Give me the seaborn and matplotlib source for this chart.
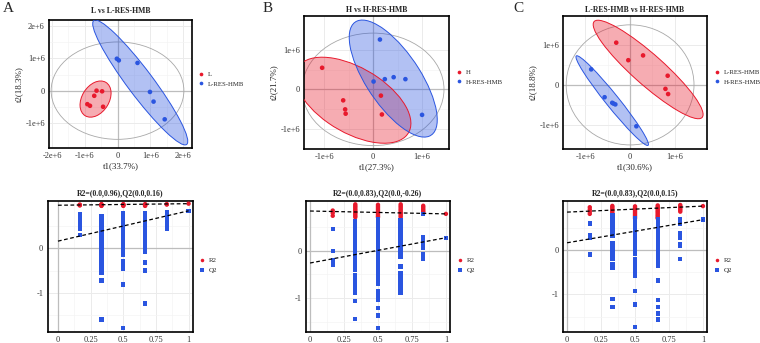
import numpy as np
import pandas as pd
import matplotlib
matplotlib.use('Agg')
import matplotlib.pyplot as plt
import seaborn as sns
from matplotlib.patches import Ellipse

RED = '#E8192C'
BLUE = '#2A55E0'
GRID = '#EBEBEB'
ZERO = '#BDBDBD'

# ---------------- score plots (t1 / t2 in units of 1e6) ----------------
a_names = ['L', 'L-RES-HMB']
a_t1 = [[-0.64, -0.47, -0.71, -0.92, -0.84, -0.44], [-0.02, 0.04, 0.61, 0.99, 1.10, 1.44]]
a_t2 = [[0.00, -0.02, -0.16, -0.42, -0.47, -0.50], [0.99, 0.94, 0.86, -0.04, -0.34, -0.89]]

b_names = ['H', 'H-RES-HMB']
b_t1 = [[-1.04, -0.61, -0.57, -0.56, 0.16, 0.18], [0.14, 0.01, 0.24, 0.42, 0.66, 1.00]]
b_t2 = [[0.55, -0.28, -0.51, -0.62, -0.16, -0.64], [1.27, 0.20, 0.26, 0.31, 0.26, -0.65]]

c_names = ['L-RES-HMB', 'H-RES-HMB']
c_t1 = [[-0.31, -0.04, 0.29, 0.84, 0.79, 0.85], [-0.87, -0.57, -0.40, -0.37, -0.33, 0.14]]
c_t2 = [[1.06, 0.62, 0.74, 0.23, -0.10, -0.23], [0.39, -0.31, -0.45, -0.47, -0.49, -1.04]]

# ---------------- permutation tests ----------------
perm_x = [0.167, 0.333, 0.5, 0.667, 0.833, 1.0]

a_r2 = [[0.98, 0.97, 0.96],
        [0.99, 0.98, 0.97, 0.96, 0.95],
        [0.99, 0.98, 0.97, 0.96, 0.95],
        [0.99, 0.98, 0.97, 0.96, 0.95],
        [0.99, 0.98],
        [1.00]]
a_q2 = [[0.76, 0.73, 0.70, 0.67, 0.64, 0.61, 0.58, 0.47, 0.43, 0.30],
        [0.72, 0.66, 0.60, 0.54, 0.48, 0.42, 0.36, 0.30, 0.24, 0.18, 0.12, 0.06, 0.00, -0.06, -0.12,
         -0.18, -0.24, -0.30, -0.36, -0.44, -0.50, -0.55, -0.72, -1.60],
        [0.78, 0.72, 0.66, 0.60, 0.54, 0.48, 0.42, 0.36, 0.30, 0.24, 0.18, 0.12, 0.06, 0.00, -0.06,
         -0.14, -0.28, -0.33, -0.38, -0.43, -0.47, -0.81, -1.79],
        [0.78, 0.72, 0.66, 0.60, 0.54, 0.48, 0.42, 0.36, 0.30, 0.24, 0.18, 0.12, 0.06, 0.00, -0.08,
         -0.32, -0.50, -1.24],
        [0.82, 0.76, 0.68, 0.62, 0.55, 0.49, 0.43],
        [0.84]]
a_r2_line = [0.965, 1.00]
a_q2_line = [0.16, 0.84]

b_r2 = [[0.84, 0.79, 0.73],
        [0.97, 0.94, 0.91, 0.88, 0.85, 0.82, 0.79, 0.76, 0.73, 0.70],
        [0.96, 0.93, 0.90, 0.87, 0.84, 0.81, 0.78, 0.75, 0.72, 0.70],
        [0.97, 0.94, 0.91, 0.88, 0.85, 0.82, 0.79, 0.76, 0.73, 0.70],
        [0.94, 0.91, 0.88, 0.85, 0.82, 0.80],
        [0.77]]
b_q2 = [[0.45, -0.01, -0.20, -0.25, -0.30],
        [0.62, 0.56, 0.50, 0.44, 0.38, 0.32, 0.26, 0.20, 0.14, 0.08, 0.02, -0.04, -0.10, -0.16, -0.22,
         -0.28, -0.34, -0.40, -0.51, -0.56, -0.63, -0.72, -0.76, -0.82, -0.88, -1.06, -1.44],
        [0.65, 0.59, 0.53, 0.47, 0.41, 0.35, 0.29, 0.23, 0.17, 0.11, 0.05, -0.01, -0.07, -0.13, -0.19,
         -0.25, -0.31, -0.37, -0.43, -0.49, -0.55, -0.61, -0.67, -0.70, -0.86, -0.91, -0.97, -1.03,
         -1.20, -1.36, -1.62],
        [0.63, 0.56, 0.50, 0.44, 0.38, 0.32, 0.26, 0.20, 0.14, 0.08, 0.02, -0.04, -0.10, -0.14, -0.33,
         -0.48, -0.53, -0.59, -0.65, -0.72, -0.78, -0.84, -0.89],
        [0.77, 0.29, 0.25, 0.21, 0.17, 0.13, 0.09, 0.05, -0.08, -0.17],
        [0.27]]
b_r2_line = [0.83, 0.77]
b_q2_line = [-0.26, 0.27]

c_r2 = [[0.96, 0.91, 0.86, 0.81],
        [0.99, 0.96, 0.93, 0.90, 0.87, 0.84, 0.81, 0.78],
        [0.98, 0.95, 0.92, 0.89, 0.86, 0.83, 0.80, 0.77, 0.74, 0.71],
        [1.00, 0.97, 0.94, 0.91, 0.88, 0.85, 0.82, 0.79, 0.76, 0.73, 0.71],
        [1.01, 0.98, 0.95, 0.92, 0.89, 0.86],
        [0.985]]
c_q2 = [[0.59, 0.34, 0.31, 0.28, -0.10],
        [0.78, 0.72, 0.66, 0.60, 0.54, 0.48, 0.42, 0.36, 0.32, 0.15, 0.06, -0.03, -0.12, -0.21, -0.32,
         -0.36, -0.40, -1.10, -1.28],
        [0.71, 0.65, 0.59, 0.53, 0.47, 0.41, 0.35, 0.29, 0.23, 0.17, 0.11, 0.05, -0.01, -0.06, -0.09,
         -0.22, -0.29, -0.35, -0.43, -0.50, -0.58, -0.93, -1.23, -1.74],
        [0.68, 0.62, 0.56, 0.50, 0.44, 0.38, 0.32, 0.26, 0.20, 0.14, 0.08, 0.02, -0.04, -0.10, -0.16,
         -0.22, -0.28, -0.35, -0.69, -1.13, -1.28, -1.43, -1.57],
        [0.68, 0.59, 0.37, 0.33, 0.28, 0.13, 0.10, -0.20],
        [0.68]]
c_r2_line = [0.85, 0.985]
c_q2_line = [0.16, 0.68]


def style_axes(ax, xticks, yticks, xminor, yminor, xlabels=None, ylabels=None):
    ax.set_xticks(xticks)
    ax.set_yticks(yticks)
    if xlabels is not None:
        ax.set_xticklabels(xlabels)
    if ylabels is not None:
        ax.set_yticklabels(ylabels)
    ax.set_xticks(xminor, minor=True)
    ax.set_yticks(yminor, minor=True)
    ax.grid(which='major', color=GRID, lw=0.7, zorder=0)
    ax.grid(which='minor', color='#F4F4F4', lw=0.5, zorder=0)
    ax.set_axisbelow(True)
    ax.axhline(0, color=ZERO, lw=0.9, zorder=1)
    ax.axvline(0, color=ZERO, lw=0.9, zorder=1)
    ax.tick_params(which='major', direction='out', length=2, width=0.5, pad=1.0,
                   labelsize=6, colors='#333333')
    ax.tick_params(which='minor', length=0)
    for s in ax.spines.values():
        s.set_color('black')
        s.set_linewidth(1.2)


def fmt_e6(vals):
    return ['0' if v == 0 else '%de+6' % v for v in vals]


def group_ellipse(ax, x, y, color, k=2.45):
    x = np.asarray(x)
    y = np.asarray(y)
    vals, vecs = np.linalg.eigh(np.cov(x, y))
    angle = np.degrees(np.arctan2(vecs[1, 1], vecs[0, 1]))
    w, h = 2 * k * np.sqrt(vals[1]), 2 * k * np.sqrt(vals[0])
    ax.add_patch(Ellipse((x.mean(), y.mean()), w, h, angle=angle, facecolor=color,
                         alpha=0.36, edgecolor='none', zorder=2))
    ax.add_patch(Ellipse((x.mean(), y.mean()), w, h, angle=angle, facecolor='none',
                         edgecolor=color, lw=0.7, zorder=3))


def score_plot(ax, names, t1, t2, title, xlab, ylab, xlim, ylim, xt, yt, title_pad):
    df = pd.DataFrame({
        't1': np.concatenate(t1),
        't2': np.concatenate(t2),
        'group': [names[0]] * len(t1[0]) + [names[1]] * len(t1[1]),
    })
    # Hotelling T2 ellipse of all samples
    allx = df['t1'].values
    ally = df['t2'].values
    n = len(allx)
    sx = np.sqrt((allx ** 2).sum() / (n - 1))
    sy = np.sqrt((ally ** 2).sum() / (n - 1))
    ax.add_patch(Ellipse((0, 0), 2 * 2.45 * sx, 2 * 2.45 * sy, facecolor='none',
                         edgecolor='#A8A8A8', lw=0.6, zorder=1.5))
    group_ellipse(ax, t1[0], t2[0], RED)
    group_ellipse(ax, t1[1], t2[1], BLUE)
    sns.scatterplot(data=df, x='t1', y='t2', hue='group', palette=[RED, BLUE],
                    s=11, linewidth=0, ax=ax, zorder=4)
    ax.set_xlim(xlim)
    ax.set_ylim(ylim)
    xminor = [v + 0.5 for v in xt[:-1]]
    yminor = [v + 0.5 for v in yt[:-1]]
    style_axes(ax, xt, yt, xminor, yminor, fmt_e6(xt), fmt_e6(yt))
    ax.set_xlabel(xlab, fontsize=6.5, labelpad=1.2)
    ax.set_ylabel(ylab, fontsize=6.5, labelpad=1.2)
    ax.set_title(title, fontsize=5.6, fontweight='bold', pad=title_pad)
    sns.move_legend(ax, 'center left', bbox_to_anchor=(1.0, 0.54), frameon=False,
                    title=None, fontsize=4.9, handletextpad=0.0, labelspacing=0.55,
                    borderaxespad=0, markerscale=0.8)


def perm_plot(ax, r2, q2, r2_line, q2_line, title, xlim, ylim):
    rows = []
    for i, vals in enumerate(r2):
        for v in vals:
            rows.append((perm_x[i], v, 'R2'))
    for i, vals in enumerate(q2):
        for v in vals:
            rows.append((perm_x[i], v, 'Q2'))
    df = pd.DataFrame(rows, columns=['x', 'y', 'kind'])
    sns.scatterplot(data=df, x='x', y='y', hue='kind', style='kind',
                    markers={'R2': 'o', 'Q2': 's'}, palette={'R2': RED, 'Q2': BLUE},
                    s=10, linewidth=0, ax=ax, zorder=4)
    ax.plot([0, 1], r2_line, color='black', lw=0.9, ls=(0, (3, 2)), zorder=5)
    ax.plot([0, 1], q2_line, color='black', lw=0.9, ls=(0, (3, 2)), zorder=5)
    ax.set_xlim(xlim)
    ax.set_ylim(ylim)
    style_axes(ax, [0, 0.25, 0.5, 0.75, 1], [-1, 0],
               [0.125, 0.375, 0.625, 0.875], [-1.5, -0.5, 0.5],
               ['0', '0.25', '0.5', '0.75', '1'], ['-1', '0'])
    ax.set_xlabel('')
    ax.set_ylabel('')
    ax.set_title(title, fontsize=5.6, fontweight='bold', pad=4)
    sns.move_legend(ax, 'center left', bbox_to_anchor=(1.0, 0.51), frameon=False,
                    title=None, fontsize=5.0, handletextpad=0.0, labelspacing=0.6,
                    borderaxespad=0, markerscale=0.8)


sns.set_style('white')
plt.rcParams['font.family'] = ['Liberation Serif', 'DejaVu Serif']

fig = plt.figure(figsize=(7.6, 3.43), dpi=100)

ax1 = fig.add_axes([0.0645, 0.5685, 0.188, 0.373])
score_plot(ax1, a_names, a_t1, a_t2, 'L vs L-RES-HMB', 't1(33.7%)', 't2(18.3%)',
           (-2.09, 2.27), (-1.78, 2.19), [-2, -1, 0, 1, 2], [-1, 0, 1, 2], 5)
ax2 = fig.add_axes([0.400, 0.5656, 0.1908, 0.3878])
score_plot(ax2, b_names, b_t1, b_t2, 'H vs H-RES-HMB', 't1(27.3%)', 't2(21.7%)',
           (-1.41, 1.55), (-1.52, 1.87), [-1, 0, 1], [-1, 0, 1], 3)
ax3 = fig.add_axes([0.7408, 0.5656, 0.1895, 0.3878])
score_plot(ax3, c_names, c_t1, c_t2, 'L-RES-HMB vs H-RES-HMB', 't1(30.6%)', 't2(18.8%)',
           (-1.50, 1.72), (-1.61, 1.73), [-1, 0, 1], [-1, 0, 1], 3)

ax4 = fig.add_axes([0.0625, 0.033, 0.1908, 0.381])
perm_plot(ax4, a_r2, a_q2, a_r2_line, a_q2_line, 'R2=(0.0,0.96),Q2(0.0,0.16)',
          (-0.08, 1.03), (-1.87, 1.06))
ax5 = fig.add_axes([0.4026, 0.033, 0.1895, 0.381])
perm_plot(ax5, b_r2, b_q2, b_r2_line, b_q2_line, 'R2=(0.0,0.83),Q2(0.0,-0.26)',
          (-0.03, 1.03), (-1.70, 1.04))
ax6 = fig.add_axes([0.7408, 0.033, 0.1895, 0.381])
perm_plot(ax6, c_r2, c_q2, c_r2_line, c_q2_line, 'R2=(0.0,0.83),Q2(0.0,0.15)',
          (-0.03, 1.03), (-1.84, 1.10))

for lx, letter in [(0.004, 'A'), (0.345, 'B'), (0.676, 'C')]:
    fig.text(lx, 0.995, letter, fontsize=11, va='top', ha='left')

fig.savefig('out.png', dpi=100)
